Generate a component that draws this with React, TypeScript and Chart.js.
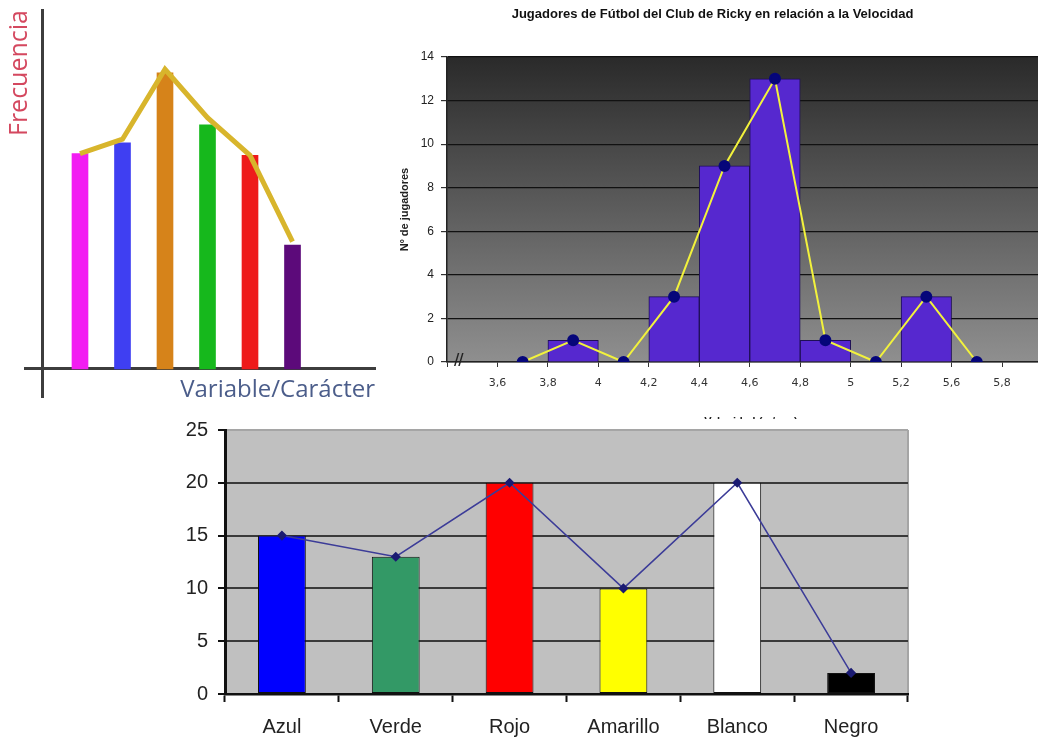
import React, { useEffect, useRef } from 'react';
import { Chart, registerables } from 'chart.js';

Chart.register(...registerables);
Chart.defaults.font.family = "'Liberation Sans', Arial, sans-serif";

// ---------- Chart 1: generic frequency bar chart ----------
const freqCategories = [1, 2, 3, 4, 5, 6];
const freqBars = [6.0, 6.3, 8.25, 6.8, 5.95, 3.45];
const freqLine = [6.0, 6.4, 8.35, 7.0, 5.95, 3.55];
const freqColors = ['#f21cf2', '#3f3ff2', '#d6831a', '#16b81c', '#ee1b1b', '#5c0a7a'];

// ---------- Chart 2: velocity histogram ----------
const velTickLabels = ['3,6', '3,8', '4', '4,2', '4,4', '4,6', '4,8', '5', '5,2', '5,6', '5,8'];
const velCounts = [0, 1, 0, 3, 9, 13, 1, 0, 3, 0];
const velTitle = 'Jugadores de Fútbol del Club de Ricky en relación a la Velocidad';
const velYTitle = 'Nº de jugadores';
const velXTitle = 'Velocidad (m/seg)';

// ---------- Chart 3: colours ----------
const colorLabels = ['Azul', 'Verde', 'Rojo', 'Amarillo', 'Blanco', 'Negro'];
const colorValues = [15, 13, 20, 10, 20, 2];
const colorFills = ['#0000ff', '#339966', '#ff0000', '#ffff00', '#ffffff', '#000000'];

const plotBg = (paint: (ctx: CanvasRenderingContext2D, a: any) => void) => ({
  id: 'plotBg',
  beforeDraw(chart: any) {
    const { ctx, chartArea: a } = chart;
    ctx.save();
    paint(ctx, a);
    ctx.restore();
  },
});

function config1(): any {
  return {
    type: 'bar',
    data: {
      datasets: [
        {
          type: 'line',
          data: freqCategories.map((x, i) => ({ x, y: freqLine[i] })),
          borderColor: '#d8b52c',
          borderWidth: 5,
          pointRadius: 0,
          tension: 0,
          order: 0,
        },
        {
          type: 'bar',
          data: freqCategories.map((x, i) => ({ x, y: freqBars[i] })),
          backgroundColor: freqColors,
          barThickness: 16,
          order: 1,
        },
      ],
    },
    options: {
      responsive: false,
      animation: false,
      layout: { padding: { left: 0, top: 10, right: 15, bottom: 13 } },
      plugins: {
        legend: { display: false },
        tooltip: { enabled: false },
        title: {
          display: true,
          position: 'left',
          align: 'end',
          text: 'Frecuencia',
          color: '#d4485f',
          font: { family: "'Open Sans', sans-serif", size: 25, weight: 'normal', lineHeight: 1 },
          padding: { top: 7.5, bottom: -7.5 },
        },
      },
      scales: {
        x: {
          type: 'linear',
          min: -0.294,
          max: 7.941,
          offset: false,
          position: { y: 0 },
          ticks: { display: false },
          grid: { display: false, drawTicks: false, offset: false },
          border: { display: true, color: '#3d3d3d', width: 3 },
          title: {
            display: true,
            text: 'Variable/Carácter',
            align: 'end',
            color: '#4b5d8a',
            font: { family: "'Open Sans', sans-serif", size: 24 },
            padding: { top: 7, bottom: 0 },
          },
        },
        y: {
          type: 'linear',
          min: -0.78,
          max: 10,
          position: { x: 0.106 },
          ticks: { display: false },
          grid: { display: false, drawTicks: false },
          border: { display: true, color: '#3d3d3d', width: 3 },
        },
      },
    },
  };
}

function config2(): any {
  const pts = velCounts.map((y, i) => ({ x: i + 0.5, y }));
  return {
    type: 'bar',
    data: {
      datasets: [
        {
          type: 'line',
          data: pts,
          borderColor: '#f2f23c',
          borderWidth: 2,
          pointRadius: 5,
          pointBackgroundColor: '#06067a',
          pointBorderColor: '#06067a',
          tension: 0,
          order: 0,
        },
        {
          type: 'bar',
          data: pts,
          backgroundColor: '#5628cf',
          borderColor: '#1e0f55',
          borderWidth: 1,
          barPercentage: 1,
          categoryPercentage: 1,
          order: 1,
        },
      ],
    },
    options: {
      responsive: false,
      animation: false,
      layout: { padding: { left: 0, right: 15, top: 0, bottom: 0 } },
      plugins: {
        legend: { display: false },
        tooltip: { enabled: false },
        title: {
          display: true,
          text: velTitle,
          color: '#111',
          font: { size: 13, weight: 'bold' },
          padding: { top: 7, bottom: 34.4 },
        },
      },
      scales: {
        x: {
          type: 'linear',
          min: -1,
          max: 11.05,
          offset: false,
          ticks: {
            stepSize: 1,
            autoSkip: false,
            maxRotation: 0,
            color: '#333',
            padding: 10,
            font: { family: "'DejaVu Sans', Verdana, sans-serif", size: 11 },
            callback: (v: number) => velTickLabels[v] ?? '',
          },
          grid: { drawOnChartArea: false, drawTicks: true, tickLength: 5, color: '#333', offset: false },
          border: { color: '#222', width: 1.5 },
          title: {
            display: true,
            text: velXTitle,
            color: '#222',
            font: { size: 11, weight: 'bold' },
            padding: { top: 4, bottom: 11.5 },
          },
          afterFit: (s: any) => {
            s.height = 78;
          },
        },
        y: {
          min: 0,
          max: 14,
          ticks: { stepSize: 2, color: '#222', padding: 7, font: { size: 12 } },
          grid: { color: '#111', lineWidth: 1.2, tickLength: 6, tickColor: '#333' },
          border: { color: '#222', width: 1.5 },
          title: {
            display: true,
            text: velYTitle,
            color: '#222',
            font: { size: 11, weight: 'bold' },
            padding: { top: 28, bottom: 0 },
          },
          afterFit: (s: any) => {
            s.width = 77;
          },
        },
      },
    },
    plugins: [
      plotBg((ctx, a) => {
        const g = ctx.createLinearGradient(0, a.top, 0, a.bottom);
        g.addColorStop(0, '#2a2a2a');
        g.addColorStop(1, '#8f8f8f');
        ctx.fillStyle = g;
        ctx.fillRect(a.left, a.top, a.right - a.left, a.bottom - a.top);
      }),
    ],
  };
}

function config3(): any {
  return {
    type: 'bar',
    data: {
      labels: colorLabels,
      datasets: [
        {
          type: 'line',
          data: colorValues,
          borderColor: '#3c3c98',
          borderWidth: 1.5,
          pointStyle: 'rectRot',
          pointRadius: 4,
          pointBackgroundColor: '#1b1b72',
          pointBorderColor: '#1b1b72',
          tension: 0,
          order: 0,
        },
        {
          type: 'bar',
          data: colorValues,
          backgroundColor: colorFills,
          borderColor: '#111',
          borderWidth: 1,
          borderSkipped: false,
          barPercentage: 0.42,
          categoryPercentage: 1,
          order: 1,
        },
      ],
    },
    options: {
      responsive: false,
      animation: false,
      layout: { padding: { left: 0, top: 25, right: 22, bottom: 0 } },
      plugins: { legend: { display: false }, tooltip: { enabled: false } },
      scales: {
        x: {
          ticks: { color: '#222', padding: 13, maxRotation: 0, font: { size: 20 } },
          grid: { drawOnChartArea: false, tickLength: 8, tickColor: '#111', tickWidth: 2, offset: true },
          border: { color: '#111', width: 2.5 },
          afterFit: (s: any) => {
            s.height = 45;
          },
        },
        y: {
          min: 0,
          max: 25,
          ticks: { stepSize: 5, color: '#222', padding: 10, font: { size: 20 } },
          grid: {
            color: (c: any) => (c.tick && c.tick.value === 25 ? '#a5a5a5' : '#3a3a3a'),
            lineWidth: 2,
            tickLength: 7,
            tickColor: '#111',
            tickWidth: 2,
          },
          border: { color: '#111', width: 3 },
          afterFit: (s: any) => {
            s.width = 55;
          },
        },
      },
    },
    plugins: [
      plotBg((ctx, a) => {
        ctx.fillStyle = '#c0c0c0';
        ctx.fillRect(a.left, a.top, a.right - a.left, a.bottom - a.top);
        ctx.strokeStyle = '#a5a5a5';
        ctx.lineWidth = 2;
        ctx.beginPath();
        ctx.moveTo(a.right, a.top);
        ctx.lineTo(a.right, a.bottom);
        ctx.stroke();
      }),
    ],
  };
}

function ChartCanvas({ make, left, top, width, height }: any) {
  const ref = useRef<HTMLCanvasElement>(null);
  useEffect(() => {
    const chart = new Chart(ref.current as HTMLCanvasElement, make());
    return () => chart.destroy();
  }, []);
  return (
    <canvas
      ref={ref}
      width={width}
      height={height}
      style={{ position: 'absolute', left, top, width, height }}
    />
  );
}

export default function App() {
  return (
    <div
      style={{
        position: 'absolute',
        left: 0,
        top: 0,
        width: 1038,
        height: 739,
        overflow: 'hidden',
        background: '#ffffff',
      }}
    >
      <ChartCanvas make={config1} left={0} top={0} width={390} height={410} />
      <div style={{ position: 'absolute', left: 370, top: 0, width: 668, height: 419, overflow: 'hidden' }}>
        <ChartCanvas make={config2} left={0} top={0} width={700} height={440} />
        <span
          style={{
            position: 'absolute',
            left: 84,
            top: 350,
            fontFamily: "'Liberation Sans', Arial, sans-serif",
            fontSize: 19,
            lineHeight: '20px',
            color: '#222',
            letterSpacing: -1,
          }}
        >
          //
        </span>
      </div>
      <ChartCanvas make={config3} left={170} top={405} width={760} height={334} />
    </div>
  );
}
